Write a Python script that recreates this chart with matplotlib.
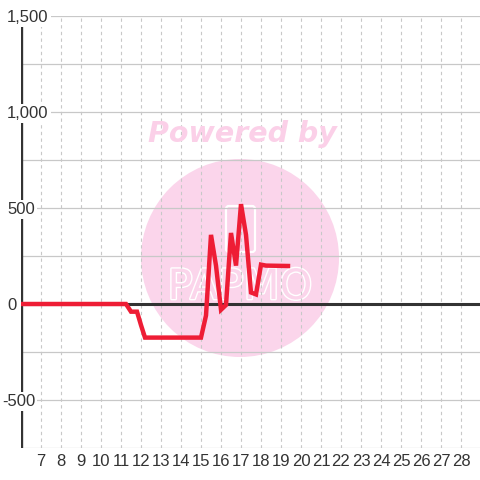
import matplotlib.pyplot as plt
import matplotlib.patheffects as pe
from matplotlib.patches import Circle, FancyBboxPatch

# data
xs = [6, 11.25, 11.5, 11.8, 12.0, 12.2, 15.0, 15.25, 15.5, 15.75, 16.0, 16.25,
      16.5, 16.75, 17.0, 17.25, 17.5, 17.75, 18.0, 18.25, 19.35]
ys = [0, 0, -40, -40, -110, -175, -175, -60, 360, 200, -30, -5,
      370, 200, 520, 360, 60, 50, 205, 200, 198]

x_ticks = list(range(7, 29))
y_grid = [-750, -500, -250, 250, 500, 750, 1000, 1250, 1500]
y_labels = [(1500, "1,500"), (1000, "1,000"), (500, "500"), (0, "0"), (-500, "-500")]

plt.rcParams["font.family"] = ["Liberation Sans", "DejaVu Sans"]

fig = plt.figure(figsize=(4.8, 4.8), dpi=100)
ax = fig.add_axes([21 / 480, 32 / 480, 459 / 480, 432 / 480])
ax.set_xlim(6, 6 + 459 / 20)
ax.set_ylim(-750, 1500)
for s in ax.spines.values():
    s.set_visible(False)
ax.set_xticks([])
ax.set_yticks([])

# watermark circle + text
circ = Circle((240 / 480, 1 - 258 / 480), 99 / 480, transform=fig.transFigure,
              facecolor="#fbd5eb", edgecolor="none", zorder=0)
ax.add_patch(circ)
fig.text(242 / 480, 1 - 134 / 480, "Powered by", color="#fbd0e8", fontsize=20.5,
         fontweight="bold", fontstyle="italic", family="DejaVu Sans",
         ha="center", va="center", zorder=0.5)
icon = FancyBboxPatch((226 / 480, 1 - 252 / 480), 29 / 480, 46 / 480,
                      boxstyle="round,pad=0,rounding_size=0.006",
                      transform=fig.transFigure, facecolor="none",
                      edgecolor="white", linewidth=1.6, zorder=0.3)
ax.add_patch(icon)
ax.text(240 / 480, 1 - 287 / 480, "PAPMO", transform=fig.transFigure,
        color="#fbd5eb", fontsize=30, family="DejaVu Sans", ha="center",
        va="center", zorder=0.3,
        path_effects=[pe.withStroke(linewidth=2, foreground="white")])

# grid
for x in x_ticks:
    ax.axvline(x, color="#c8c8c8", lw=0.8, ls=(0, (3, 3)), zorder=1)
for y in y_grid:
    ax.axhline(y, color="#c8c8c8", lw=0.9, zorder=1)

# axis lines
ax.axhline(0, color="#333333", lw=2.2, zorder=2)
ax.axvline(6, color="#333333", lw=2.4, zorder=2)

ax.plot(xs, ys, color="#ee1d35", lw=3.2, solid_joinstyle="miter", zorder=3)

# y labels with white background
for v, lab in y_labels:
    px = 2 if lab.startswith("-") else 7
    yy = 1 - (305 - v * 96 / 500) / 480
    fig.text(px / 480, yy, lab, fontsize=12, color="#333333", ha="left",
             va="center", zorder=4,
             bbox=dict(facecolor="white", edgecolor="none", pad=1.5))

for x in x_ticks:
    fig.text((21 + (x - 6) * 20) / 480, 1 - 461 / 480, str(x), fontsize=12,
             color="#333333", ha="center", va="center")

fig.savefig("out.png", dpi=100, facecolor="white")
